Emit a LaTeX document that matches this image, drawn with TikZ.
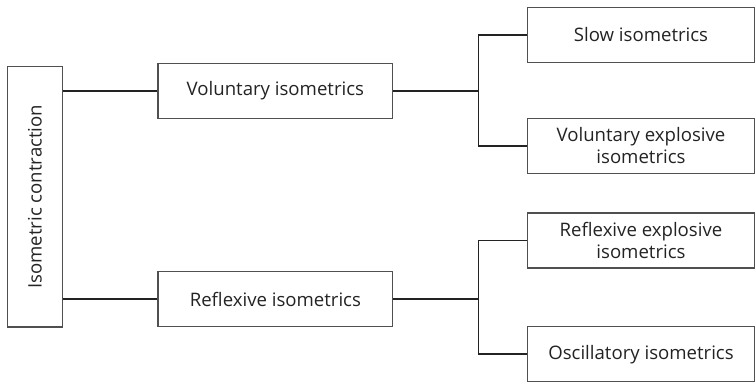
\documentclass[tikz,border=0pt]{standalone}
\usepackage{fontspec}
\setmainfont{Open Sans}
\usepackage{tikz}
\definecolor{boxgray}{RGB}{80,80,80}
\definecolor{inkgray}{RGB}{35,35,35}

\begin{document}
\begin{tikzpicture}[
    x=1pt, y=1pt,
    box/.style={rectangle, draw=boxgray, line width=1.2pt, minimum height=55pt, inner sep=2pt, align=center, text=inkgray, font=\fontsize{18.6}{21.8}\selectfont},
    link/.style={-, line width=1.6pt, draw=inkgray}
]
\useasboundingbox (0,0) rectangle (755,-383);

% Nodes
\node[box, minimum width=55pt, minimum height=260.5pt] (contraction) at (35,-196.8) {\rotatebox{90}{Isometric contraction}};
\node[box, minimum width=234.7pt] (voluntary) at (275.4,-90.8) {Voluntary isometrics};
\node[box, minimum width=234.7pt] (reflexive) at (275.4,-299.2) {Reflexive isometrics};
\node[box, minimum width=226.5pt] (slow) at (641,-34.8) {Slow isometrics};
\node[box, minimum width=226.5pt] (volexpl) at (641,-145.8) {Voluntary explosive\\isometrics};
\node[box, minimum width=226.5pt] (refexpl) at (641,-240.5) {Reflexive explosive\\isometrics};
\node[box, minimum width=226.5pt] (oscill) at (641,-354.2) {Oscillatory isometrics};

% Forks
\coordinate (volfork) at (478.3,-90.8);
\coordinate (reffork) at (478.3,-299.2);

% Edges
\draw[link] (contraction.east |- voluntary) -- (voluntary.west);
\draw[link] (contraction.east |- reflexive) -- (reflexive.west);

\draw[link] (voluntary.east) -- (volfork);
\draw[link] (slow.west) -| (volfork);
\draw[link] (volexpl.west) -| (volfork);

\draw[link] (reflexive.east) -- (reffork);
\draw[link] (refexpl.west) -| (reffork);
\draw[link] (oscill.west) -| (reffork);

\end{tikzpicture}
\end{document}
